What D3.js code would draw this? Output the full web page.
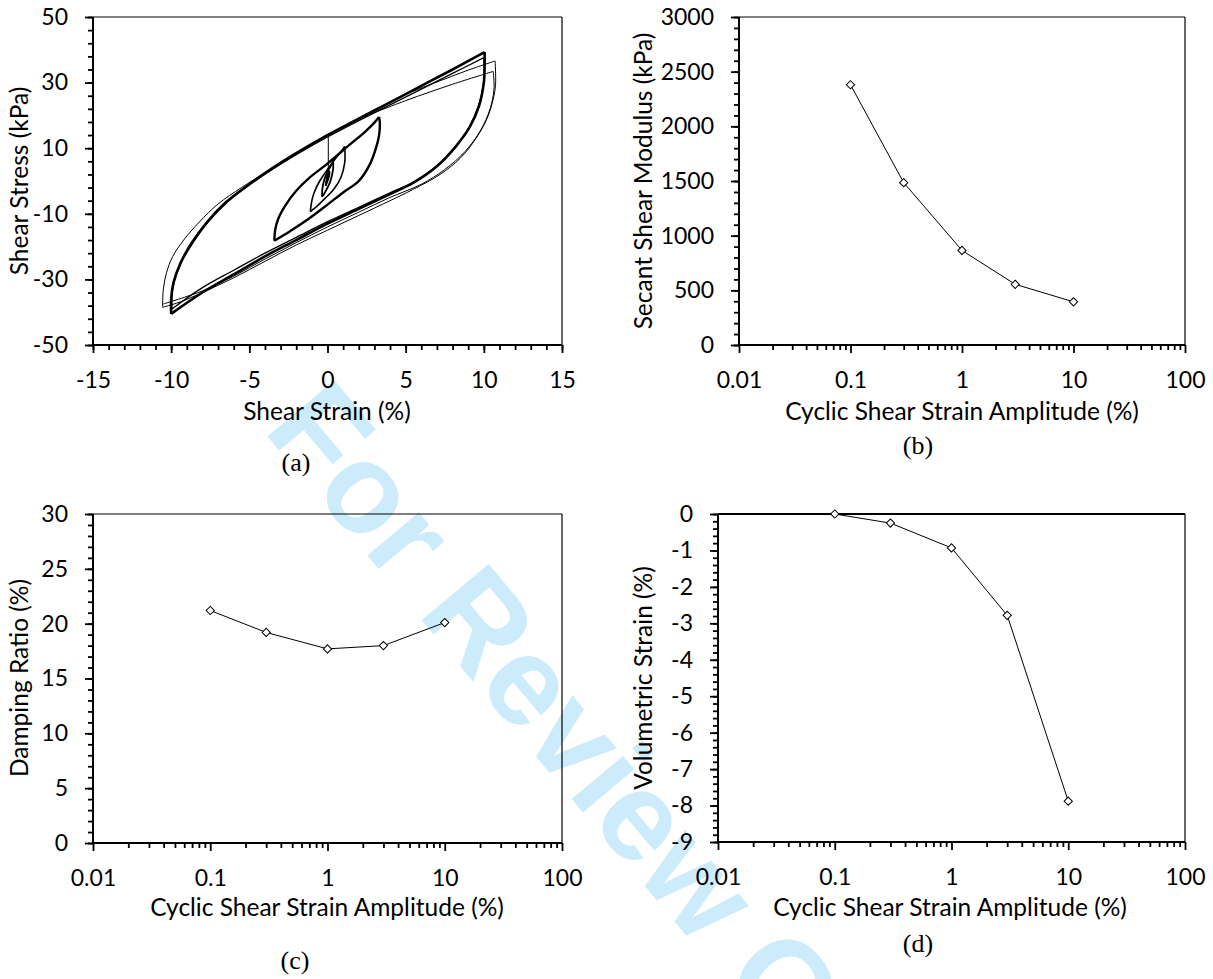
<!DOCTYPE html>
<html>
<head>
<meta charset="utf-8">
<script src="https://cdn.jsdelivr.net/npm/d3@7/dist/d3.min.js"></script>
<style>
body { margin: 0; background: #fff; }
svg text { font-family: Lato, "Open Sans", sans-serif; }
</style>
</head>
<body>
<script>
// ---- data ----
var amplitudes = [0.1, 0.3, 1, 3, 10];
var modulus = [2380, 1485, 865, 555, 395];
var damping = [21.2, 19.2, 17.7, 18.0, 20.1];
var volStrain = [0, -0.25, -0.93, -2.78, -7.88];

var ampTicks = [0.01, 0.1, 1, 10, 100];
var ampTickLabels = ['0.01', '0.1', '1', '10', '100'];
var ampMinor = [0.02, 0.03, 0.04, 0.05, 0.06, 0.07, 0.08, 0.09,
    0.2, 0.3, 0.4, 0.5, 0.6, 0.7, 0.8, 0.9,
    2, 3, 4, 5, 6, 7, 8, 9,
    20, 30, 40, 50, 60, 70, 80, 90];

var strainTicks = [-15, -10, -5, 0, 5, 10, 15];
var stressTicks = [-50, -30, -10, 10, 30, 50];
var modulusTicks = [0, 500, 1000, 1500, 2000, 2500, 3000];
var dampingTicks = [0, 5, 10, 15, 20, 25, 30];
var volTicks = [0, -1, -2, -3, -4, -5, -6, -7, -8, -9];

// hysteresis loops, [shear strain %, shear stress kPa]
var loop10Upper = [[-10, -40.5], [-10, -36], [-9.85, -31], [-9.4, -25], [-8.7, -19], [-7.7, -12.5],
    [-6.5, -6.5], [-5, -1], [-3.5, 4], [-2, 8.5], [0, 14], [2, 19], [4, 24], [6, 29], [8, 34], [10.05, 39.3]];
var loop10Lower = [[10.05, 39.3], [10.05, 35], [10, 30], [9.7, 23], [9.1, 16.5], [8.2, 10.5], [7, 4.5],
    [5.5, -0.5], [4, -4], [2, -8.5], [0, -13], [-2, -18], [-4, -23], [-6, -28.5], [-8, -34], [-10, -40.5]];
var cycle2Upper = [[-9.95, -39], [-9.95, -35], [-9.8, -30.5], [-9.35, -24.8], [-8.6, -18.8], [-7.6, -12.3],
    [-6.4, -6.4], [-5, -1.2], [-3.5, 3.6], [-2, 8], [0, 13.4], [2, 18.4], [4, 23.2], [6, 28], [8, 32.8], [10, 37.6]];
var cycle2Lower = [[10, 37.6], [10.02, 34], [9.97, 29.5], [9.65, 22.8], [9.05, 16.3], [8.15, 10.3], [6.95, 4.4],
    [5.5, -0.3], [4, -3.6], [2, -8], [0, -12.4], [-2, -17.2], [-4, -22], [-6, -27.2], [-8, -32.5], [-9.95, -39]];
var firstUpper = [[-10.55, -38.5], [-10.5, -33], [-10.3, -28], [-9.9, -23], [-9.2, -18], [-8.2, -12.5],
    [-7, -7], [-5.5, -2], [-4, 2.5], [-2, 8.5], [0, 14.2]];
var firstTopA = [[5, 26.5], [7, 30.2], [9, 33.8], [10.72, 36.6]];
var firstTopB = [[2, 19], [5, 24.5], [8, 29.5], [10.6, 33.4]];
var firstLowerA = [[10.72, 36.6], [10.75, 29.5], [10.6, 25], [10.2, 19], [9.5, 13], [8.5, 7], [7.2, 2],
    [5.5, -2.5], [4, -6], [2, -10.5], [0, -15], [-2, -19.5], [-4, -24.5], [-6, -29.5], [-8, -34],
    [-9.5, -37], [-10.55, -38.5]];
var firstLowerB = [[10.6, 33.4], [10.65, 28], [10.4, 22], [9.8, 15.5], [8.8, 9], [7.5, 3.5], [6, -1],
    [4, -5], [2, -9.5], [0, -14], [-2, -18.8], [-4, -23.8], [-6, -29], [-8, -33.5], [-10.5, -37.5]];
var loop3Upper = [[-3.4, -18.2], [-3.35, -15], [-3.15, -11.5], [-2.7, -7.5], [-2, -3], [-1.2, 0.8],
    [0, 5.3], [1.4, 11], [2.4, 15], [3, 17.8], [3.3, 19.5]];
var loop3Lower = [[3.3, 19.5], [3.35, 17.5], [3.3, 14], [3.1, 10], [2.7, 5], [2, 0], [1, -3.5],
    [0, -7.2], [-1.2, -11.5], [-2.4, -15.3], [-3.4, -18.2]];
var loop1Upper = [[-1.1, -9.3], [-1, -6], [-0.85, -3.5], [-0.5, 0], [0, 3.5], [0.5, 6.8], [0.9, 9.2], [1.1, 10.5]];
var loop1Lower = [[1.1, 10.5], [1.12, 8.5], [1.1, 5.5], [0.85, 1], [0.4, -2.5], [-0.2, -5.5], [-0.7, -7.8], [-1.1, -9.3]];
var loop03Upper = [[-0.35, -4.8], [-0.33, -2.5], [-0.2, 0.5], [0, 2.8], [0.2, 4.5], [0.35, 5.8]];
var loop03Lower = [[0.35, 5.8], [0.37, 4.5], [0.3, 2], [0.15, -0.5], [-0.05, -2.5], [-0.2, -3.8], [-0.35, -4.8]];
var loop01 = [[-0.12, -1.5], [-0.05, 0.8], [0.12, 3], [0.1, 1.5], [0, 0], [-0.12, -1.5]];
var jumpLine = [[0.05, 2.5], [0.05, 14.3]];

// ---- drawing ----
var svg = d3.select('body').append('svg')
    .attr('width', 1213).attr('height', 979);

svg.append('text')
    .attr('transform', 'translate(262,430) rotate(50)')
    .style('font-family', '"Liberation Sans", Arial, sans-serif')
    .style('font-weight', 'bold')
    .style('font-size', '127px')
    .attr('fill', '#cdecfb')
    .text('For Review Only');

function frame(box, x, y, xt, xlab, xminor, yt, yminor, thickTop) {
    var g = svg.append('g');
    // minor ticks
    g.append('g').attr('transform', 'translate(0,' + box.y1 + ')')
        .call(d3.axisBottom(x).tickValues(xminor).tickSize(5).tickFormat(''));
    g.append('g').attr('transform', 'translate(' + box.x0 + ',0)')
        .call(d3.axisLeft(y).tickValues(yminor).tickSize(5).tickFormat(''));
    // major ticks
    g.append('g').attr('transform', 'translate(0,' + box.y1 + ')')
        .call(d3.axisBottom(x).tickValues(xt).tickSize(8).tickPadding(19)
            .tickFormat(function(d, i) { return xlab[i]; }));
    g.append('g').attr('transform', 'translate(' + box.x0 + ',0)')
        .call(d3.axisLeft(y).tickValues(yt).tickSize(8).tickPadding(17)
            .tickFormat(function(d) { return String(d); }));
    g.selectAll('.domain').remove();
    g.selectAll('.tick line').attr('stroke', '#000').attr('stroke-width', 1.8);
    g.selectAll('.tick text').attr('fill', '#000').style('font-size', '23px');

    g.append('line').attr('x1', box.x0).attr('x2', box.x1).attr('y1', box.y0).attr('y2', box.y0)
        .attr('stroke', '#000').attr('stroke-width', thickTop ? 2 : 1.2);
    g.append('line').attr('x1', box.x1).attr('x2', box.x1).attr('y1', box.y0).attr('y2', box.y1)
        .attr('stroke', '#000').attr('stroke-width', 1.2);
    g.append('line').attr('x1', box.x0).attr('x2', box.x1).attr('y1', box.y1).attr('y2', box.y1)
        .attr('stroke', '#000').attr('stroke-width', 2);
    g.append('line').attr('x1', box.x0).attr('x2', box.x0).attr('y1', box.y0).attr('y2', box.y1)
        .attr('stroke', '#000').attr('stroke-width', 2);
    return g;
}

function titles(xTitle, xc, xy, yTitle, yx, yc, tag, tx, ty) {
    svg.append('text').attr('x', xc).attr('y', xy).attr('text-anchor', 'middle')
        .style('font-size', '24.5px').text(xTitle);
    svg.append('text').attr('transform', 'translate(' + yx + ',' + yc + ') rotate(-90)')
        .attr('text-anchor', 'middle').style('font-size', '24.5px').text(yTitle);
    svg.append('text').attr('x', tx).attr('y', ty).attr('text-anchor', 'middle')
        .style('font-family', '"Liberation Serif", "Times New Roman", serif')
        .style('font-size', '26px').text(tag);
}

function series(x, y, vals) {
    var pts = amplitudes.map(function(a, i) { return [a, vals[i]]; });
    svg.append('path').datum(pts)
        .attr('d', d3.line().x(function(d) { return x(d[0]); }).y(function(d) { return y(d[1]); }))
        .attr('fill', 'none').attr('stroke', '#000').attr('stroke-width', 1);
    svg.selectAll(null).data(pts).enter().append('path')
        .attr('d', d3.symbol(d3.symbolSquare, 34))
        .attr('transform', function(d) { return 'translate(' + x(d[0]) + ',' + y(d[1]) + ') rotate(45)'; })
        .attr('fill', '#fff').attr('stroke', '#000').attr('stroke-width', 1);
}

// (a) hysteresis
var A = { x0: 93, x1: 562, y0: 17, y1: 345 };
var xa = d3.scaleLinear().domain([-15, 15]).range([A.x0, A.x1]);
var ya = d3.scaleLinear().domain([-50, 50]).range([A.y1, A.y0]);
frame(A, xa, ya, strainTicks, strainTicks.map(String), d3.range(-15, 16, 1), stressTicks, d3.range(-50, 51, 4), false);
var loopLine = d3.line().curve(d3.curveCatmullRom.alpha(0.5))
    .x(function(d) { return xa(d[0]); }).y(function(d) { return ya(d[1]); });
function loop(pts, w) {
    svg.append('path').datum(pts).attr('d', loopLine)
        .attr('fill', 'none').attr('stroke', '#000').attr('stroke-width', w)
        .attr('stroke-linejoin', 'round');
}
[firstUpper, firstTopA, firstTopB, firstLowerA, firstLowerB, jumpLine].forEach(function(p) { loop(p, 1); });
[cycle2Upper, cycle2Lower].forEach(function(p) { loop(p, 1.3); });
[loop10Upper, loop10Lower].forEach(function(p) { loop(p, 2.6); });
[loop3Upper, loop3Lower].forEach(function(p) { loop(p, 2.4); });
[loop1Upper, loop1Lower].forEach(function(p) { loop(p, 1.6); });
[loop03Upper, loop03Lower, loop01].forEach(function(p) { loop(p, 1.8); });
titles('Shear Strain (%)', 327, 420, 'Shear Stress (kPa)', 28, 181, '(a)', 296, 471);

// (b) secant modulus
var B = { x0: 739, x1: 1185, y0: 17, y1: 345 };
var xb = d3.scaleLog().domain([0.01, 100]).range([B.x0, B.x1]);
var yb = d3.scaleLinear().domain([0, 3000]).range([B.y1, B.y0]);
frame(B, xb, yb, ampTicks, ampTickLabels, ampMinor, modulusTicks, d3.range(0, 3001, 100), false);
series(xb, yb, modulus);
titles('Cyclic Shear Strain Amplitude (%)', 962, 420, 'Secant Shear Modulus (kPa)', 652, 181, '(b)', 918, 454);

// (c) damping
var C = { x0: 93, x1: 562, y0: 514, y1: 843 };
var xc = d3.scaleLog().domain([0.01, 100]).range([C.x0, C.x1]);
var yc = d3.scaleLinear().domain([0, 30]).range([C.y1, C.y0]);
frame(C, xc, yc, ampTicks, ampTickLabels, ampMinor, dampingTicks, d3.range(0, 31, 1), false);
series(xc, yc, damping);
titles('Cyclic Shear Strain Amplitude (%)', 327, 916, 'Damping Ratio (%)', 28, 678, '(c)', 295, 969);

// (d) volumetric strain
var D = { x0: 718, x1: 1185, y0: 514, y1: 842 };
var xd = d3.scaleLog().domain([0.01, 100]).range([D.x0, D.x1]);
var yd = d3.scaleLinear().domain([-9, 0]).range([D.y1, D.y0]);
frame(D, xd, yd, ampTicks, ampTickLabels, ampMinor, volTicks, d3.range(-9, 0.01, 0.2), true);
series(xd, yd, volStrain);
titles('Cyclic Shear Strain Amplitude (%)', 950, 916, 'Volumetric Strain (%)', 652, 678, '(d)', 918, 952);
</script>
</body>
</html>
